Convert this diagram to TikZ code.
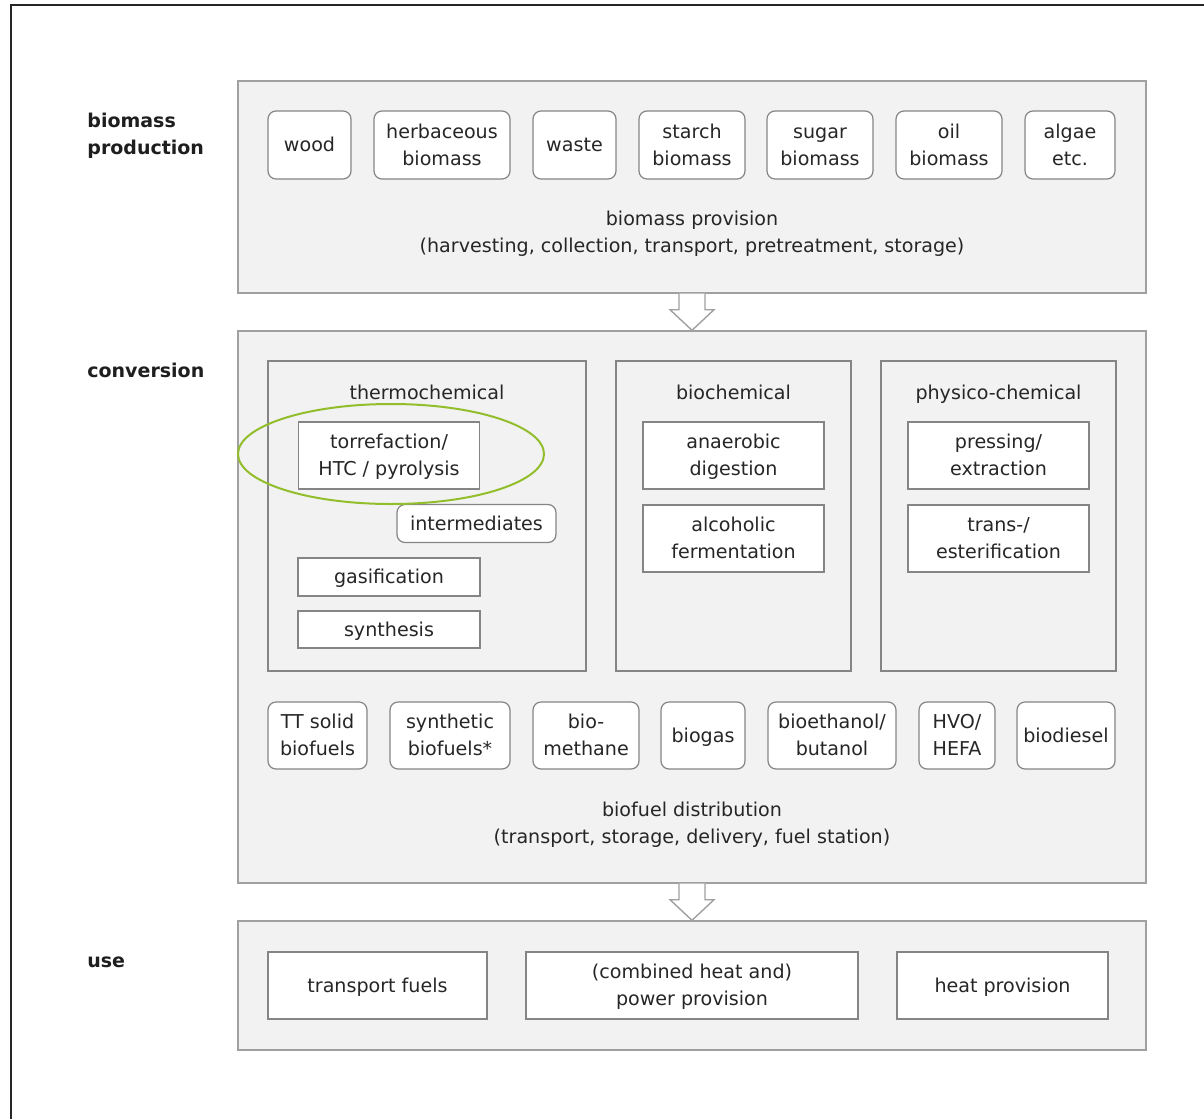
\documentclass[tikz,border=0pt]{standalone}
\usepackage{fontspec}
\setmainfont{DejaVu Sans}
\usetikzlibrary{calc,shapes.geometric}
\definecolor{panelfill}{HTML}{F2F2F2}
\definecolor{panelline}{HTML}{A0A0A0}
\definecolor{boxline}{HTML}{858585}
\definecolor{txt}{HTML}{262626}
\definecolor{ringgreen}{HTML}{93BE2C}
\newcommand\sst{\rule[-3.3pt]{0pt}{13.5pt}}
\tikzset{
  x=0.5pt, y=-0.5pt,
  every node/.style={font=\fontsize{9.55}{13.5}\selectfont, text=txt, align=center, inner sep=0pt},
  wh/.style 2 args={minimum width=#1*0.5pt, minimum height=#2*0.5pt},
  panel/.style={draw=panelline, fill=panelfill, line width=0.7pt},
  group/.style={draw=boxline, fill=panelfill, line width=0.6pt},
  sbox/.style={draw=boxline, fill=white, line width=0.6pt},
  rbox/.style={draw=boxline, fill=white, line width=0.6pt, rounded corners=4pt},
  lab/.style={font=\fontsize{9.5}{13.5}\selectfont\bfseries, anchor=west, align=left, text=txt!80!black},
  hollow/.style={draw=panelline, fill=white, line width=0.7pt, line join=miter},
}
\begin{document}
\begin{tikzpicture}
\useasboundingbox[fill=white] (0,0) rectangle (1204,1119);
\draw[line width=0.8pt, black!85] (11,1119) -- (11,5) -- (1204,5);

% left labels
\node[lab] (lprod) at (87,135.5) {biomass\\production};
\node[lab] (lconv) at (87,370) {conversion};
\node[lab] (luse) at (87,962.5) {use};

% panels
\node[panel, wh={908}{212}] (p1) at (692,187) {};
\node[panel, wh={908}{552}] (p2) at (692,607) {};
\node[panel, wh={908}{129}] (p3) at (692,985.5) {};

% arrows between panels
\draw[hollow] ($(p1.south)+(-13,0)$) -- ($(p1.south)+(-13,16)$) -- ($(p1.south)+(-22,16)$) -- (p2.north) -- ($(p1.south)+(22,16)$) -- ($(p1.south)+(13,16)$) -- ($(p1.south)+(13,0)$);
\draw[hollow] ($(p2.south)+(-13,0)$) -- ($(p2.south)+(-13,16)$) -- ($(p2.south)+(-22,16)$) -- (p3.north) -- ($(p2.south)+(22,16)$) -- ($(p2.south)+(13,16)$) -- ($(p2.south)+(13,0)$);

% biomass row
\node[rbox, wh={83}{68}] (wood) at (309.5,145) {\sst wood};
\node[rbox, wh={136}{68}] (herb) at (442,145) {\sst herbaceous\\\sst biomass};
\node[rbox, wh={83}{68}] (waste) at (574.5,145) {\sst waste};
\node[rbox, wh={106}{68}] (starch) at (692,145) {\sst starch\\\sst biomass};
\node[rbox, wh={106}{68}] (sugar) at (820,145) {\sst sugar\\\sst biomass};
\node[rbox, wh={106}{68}] (oil) at (949,145) {\sst oil\\\sst biomass};
\node[rbox, wh={90}{68}] (algae) at (1070,145) {\sst algae\\\sst etc.};
\node (prov) at (692,232.5) {\sst biomass provision\\\sst (harvesting, collection, transport, pretreatment, storage)};

% conversion groups
\node[group, wh={318}{310}] (thermo) at (427,516) {};
\node (thermot) at (427,392.5) {\sst thermochemical};
\node[sbox, wh={181}{67}] (torr) at (389,455.5) {\sst torrefaction/\\\sst HTC / pyrolysis};
\node[rbox, wh={159}{38}] (inter) at (476.5,523.5) {\sst intermediates};
\node[sbox, wh={182}{38}] (gasif) at (389,577) {\sst gasification};
\node[sbox, wh={182}{37}] (synth) at (389,629.5) {\sst synthesis};
\node[draw=ringgreen, line width=1pt, ellipse, wh={306}{100}] (ring) at (391,454) {};

\node[group, wh={235}{310}] (bio) at (733.5,516) {};
\node (biot) at (733.5,392.5) {\sst biochemical};
\node[sbox, wh={181}{67}] (anaer) at (733.5,455.5) {\sst anaerobic\\\sst digestion};
\node[sbox, wh={181}{67}] (alc) at (733.5,538.5) {\sst alcoholic\\\sst fermentation};

\node[group, wh={235}{310}] (phys) at (998.5,516) {};
\node (physt) at (998.5,392.5) {\sst physico-chemical};
\node[sbox, wh={181}{67}] (press) at (998.5,455.5) {\sst pressing/\\\sst extraction};
\node[sbox, wh={181}{67}] (trans) at (998.5,538.5) {\sst trans-/\\\sst esterification};

% biofuel row
\node[rbox, wh={99}{67}] (tt) at (317.5,735.5) {\sst TT solid\\\sst biofuels};
\node[rbox, wh={120}{67}] (synbf) at (450,735.5) {\sst synthetic\\\sst biofuels*};
\node[rbox, wh={106}{67}] (biometh) at (586,735.5) {\sst bio-\\\sst methane};
\node[rbox, wh={84}{67}] (biogas) at (703,735.5) {\sst biogas};
\node[rbox, wh={128}{67}] (bioeth) at (832,735.5) {\sst bioethanol/\\\sst butanol};
\node[rbox, wh={76}{67}] (hvo) at (957,735.5) {\sst HVO/\\\sst HEFA};
\node[rbox, wh={98}{67}] (biod) at (1066,735.5) {\sst biodiesel};
\node (dist) at (692,823.5) {\sst biofuel distribution\\\sst (transport, storage, delivery, fuel station)};

% use row
\node[sbox, wh={219}{67}] (tf) at (377.5,985.5) {\sst transport fuels};
\node[sbox, wh={332}{67}] (chp) at (692,985.5) {\sst (combined heat and)\\\sst power provision};
\node[sbox, wh={211}{67}] (heat) at (1002.5,985.5) {\sst heat provision};
\end{tikzpicture}
\end{document}
